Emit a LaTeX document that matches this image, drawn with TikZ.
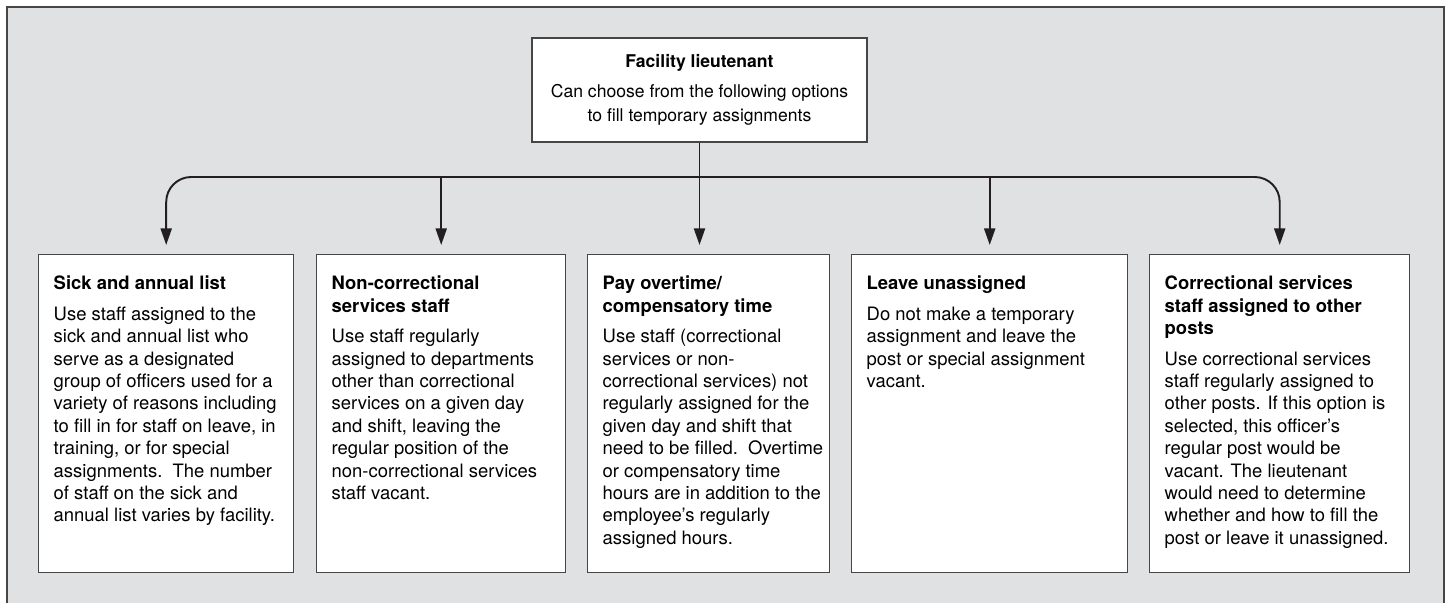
\documentclass[tikz,border=0pt]{standalone}
\usepackage{fontspec}
\setmainfont{TeX Gyre Heros}
\usepackage{xcolor}
\usepackage{tikz}
\usetikzlibrary{arrows.meta,positioning,calc}
\definecolor{panelgray}{RGB}{224,225,227}
\definecolor{inkdark}{RGB}{35,31,32}
\definecolor{boxline}{RGB}{70,70,70}
\newcommand{\optiontext}[3]{\hspace*{0.3cm}\parbox[t][5.5cm][t]{#1}{\raggedright\fontsize{10.5}{12.75}\selectfont\textbf{#2}\\[4.5pt]#3}}

\begin{document}
\begin{tikzpicture}[
    optbox/.style={draw=boxline, fill=white, line width=0.8pt, anchor=north west, inner xsep=0pt, inner ysep=0.43cm},
    headbox/.style={draw=boxline, fill=white, line width=0.8pt, minimum width=6.7cm, minimum height=2.08cm, align=center, font=\fontsize{10}{13.6}\selectfont},
    tree/.style={draw=inkdark, line width=1.1pt, -{Triangle[length=0.33cm, width=0.22cm]}}
]
    \useasboundingbox (0,0) rectangle (28.98,12.06);
    \fill[panelgray] (0.14,0) rectangle (28.88,11.92); % Panel
    \draw[boxline, line width=1pt] (0.14,0) |- (28.88,11.92) -- (28.88,0);

    \node[headbox] (lt) at (13.99,10.26) {\textbf{Facility lieutenant}\\[3.4pt]Can choose from the following options\\to fill temporary assignments};
    \coordinate (bus) at (13.99,8.52);

    \node[optbox] (sick) at (0.76,6.98) {\optiontext{4.8cm}{Sick and annual list}{Use staff assigned to the\\sick and annual list who\\serve as a designated\\group of officers used for a\\variety of reasons including\\to fill in for staff on leave, in\\training, or for special\\assignments.\ \ The number\\of staff on the sick and\\annual list varies by facility.}};
    \node[optbox] (noncor) at (6.32,6.98) {\optiontext{4.68cm}{Non-correctional\\services staff}{Use staff regularly\\assigned to departments\\other than correctional\\services on a given day\\and shift, leaving the\\regular position of the\\non-correctional services\\staff vacant.}};
    \node[optbox] (pay) at (11.74,6.98) {\optiontext{4.54cm}{Pay overtime/\\compensatory time}{Use staff (correctional\\services or non-\\correctional services) not\\regularly assigned for the\\given day and shift that\\need to be filled.\ \ Overtime\\or compensatory time\\hours are in addition to the\\employee's regularly\\assigned hours.}};
    \node[optbox] (leave) at (17.02,6.98) {\optiontext{5.22cm}{Leave unassigned}{Do not make a temporary\\assignment and leave the\\post or special assignment\\vacant.}};
    \node[optbox] (correct) at (22.98,6.98) {\optiontext{4.9cm}{Correctional services\\staff assigned to other\\posts}{Use correctional services\\staff regularly assigned to\\other posts. If this option is\\selected, this officer's\\regular post would be\\vacant. The lieutenant\\would need to determine\\whether and how to fill the\\post or leave it unassigned.}};

    \draw[tree] (lt.south) -- ([yshift=0.18cm]lt.south |- pay.north);
    \draw[tree, {Triangle[length=0.33cm, width=0.22cm]}-{Triangle[length=0.33cm, width=0.22cm]}, rounded corners=0.5cm] ([yshift=0.18cm]sick.north) |- (bus) -| ([yshift=0.18cm]correct.north);
    \draw[tree] (bus -| noncor.north) -- ([yshift=0.18cm]noncor.north);
    \draw[tree] (bus -| leave.north) -- ([yshift=0.18cm]leave.north);
\end{tikzpicture}
\end{document}
